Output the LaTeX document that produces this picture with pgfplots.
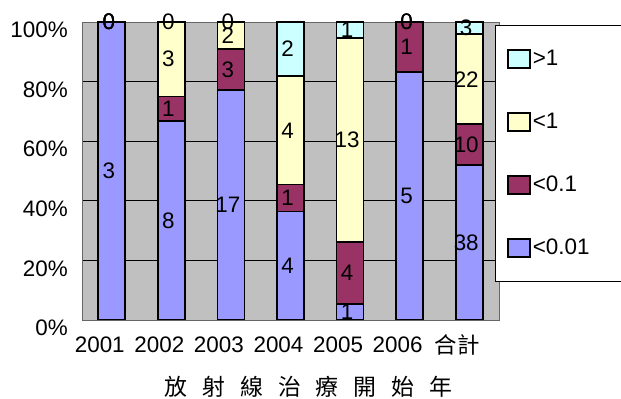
\documentclass[border=0pt]{standalone}
\usepackage{pgfplots}
\pgfplotsset{compat=1.18}
\usepackage{pgfplotstable}
\usepackage{fontspec}
\setmainfont{Liberation Sans}
\newfontfamily\cjk{Noto Sans CJK TC}
\definecolor{cA}{RGB}{153,153,255}
\definecolor{cB}{RGB}{153,51,102}
\definecolor{cC}{RGB}{255,255,204}
\definecolor{cD}{RGB}{204,255,255}
\definecolor{wall}{RGB}{192,192,192}

% counts n1..n4 (<0.01, <0.1, <1, >1), cumulative percent tops t1..t4, label centres m1..m4
\pgfplotstableread{
x n1 n2 n3 n4 t1 t2 t3 t4 m1 m2 m3 m4
0 3 0 0 0 100 100 100 100 50 100 100 100
1 8 1 3 0 66.7 75.0 100 100 33.3 70.8 87.5 100
2 17 3 2 0 77.3 90.9 100 100 38.6 84.1 95.5 100
3 4 1 4 2 36.4 45.5 81.8 100 18.2 40.9 63.6 90.9
4 1 4 13 1 5.3 26.3 94.7 100 2.6 15.8 60.5 97.4
5 5 1 0 0 83.3 100 100 100 41.7 91.7 100 100
6 38 10 22 3 52.1 65.8 95.9 100 26.0 58.9 80.8 97.9
}\data

\begin{document}
\begin{tikzpicture}
\useasboundingbox (0,0) rectangle (621bp,399bp);
\begin{axis}[
  at={(82bp,79bp)}, anchor=south west,
  width=417bp, height=298bp, scale only axis,
  xmin=-0.5, xmax=6.5, ymin=0, ymax=100,
  axis background/.style={fill=wall},
  axis line style={draw=gray!80!black, line width=0.8bp},
  ymajorgrids, grid style={black, line width=0.6bp},
  major tick length=0pt,
  ytick={0,20,...,100},
  yticklabel={\pgfmathprintnumber{\tick}\%},
  /pgf/number format/assume math mode=true,
  yticklabel style={anchor=east, xshift=-14bp, yshift=-8bp, inner sep=0pt},
  xtick={0,...,6},
  xticklabels={2001,2002,2003,2004,2005,2006,{\cjk 合計}},
  xticklabel style={anchor=center, xshift=-12bp, yshift=-25bp, inner sep=0pt},
  tick label style={font=\fontsize{22.5}{26}\selectfont},
  xlabel={\cjk 放\hspace{15bp}射\hspace{15bp}線\hspace{15bp}治\hspace{15bp}療\hspace{15bp}開\hspace{15bp}始\hspace{15bp}年},
  xlabel style={at={(axis description cs:0.5,0)}, anchor=center, yshift=-67bp, xshift=18bp, font=\fontsize{23}{27}\selectfont},
  legend image code/.code={\draw[#1, line width=1.5bp] (0bp,-9bp) rectangle (22bp,9bp);},
  legend style={at={(1,1)}, anchor=north west, xshift=-4bp, yshift=-3bp,
    draw=black, fill=white, line width=0.8bp,
    font=\fontsize{22.5}{26}\selectfont, row sep=42bp,
    inner xsep=12bp, inner ysep=23bp,
    cells={anchor=west}, nodes={text width=90bp}},
  every node near coord/.append style={anchor=center, xshift=-3bp, text=black, font=\fontsize{22.5}{26}\selectfont},
]
\pgfplotsset{bstyle/.style={ybar, bar width=27bp, bar shift=0pt, draw=black, line width=1.8bp, forget plot}}
\addplot[bstyle, fill=cD] table[x=x, y=t4] {\data};
\addplot[bstyle, fill=cC] table[x=x, y=t3] {\data};
\addplot[bstyle, fill=cB] table[x=x, y=t2] {\data};
\addplot[bstyle, fill=cA] table[x=x, y=t1] {\data};

\pgfplotsset{lstyle/.style={draw=none, mark=none, forget plot, nodes near coords, point meta=explicit}}
\addplot[lstyle] table[x=x, y=m1, meta=n1] {\data};
\addplot[lstyle] table[x=x, y=m2, meta=n2] {\data};
\addplot[lstyle] table[x=x, y=m3, meta=n3] {\data};
\addplot[lstyle] table[x=x, y=m4, meta=n4] {\data};

\addlegendimage{fill=cD, draw=black}
\addlegendentry{>1}
\addlegendimage{fill=cC, draw=black}
\addlegendentry{<1}
\addlegendimage{fill=cB, draw=black}
\addlegendentry{<0.1}
\addlegendimage{fill=cA, draw=black}
\addlegendentry{<0.01}
\end{axis}
\end{tikzpicture}
\end{document}
